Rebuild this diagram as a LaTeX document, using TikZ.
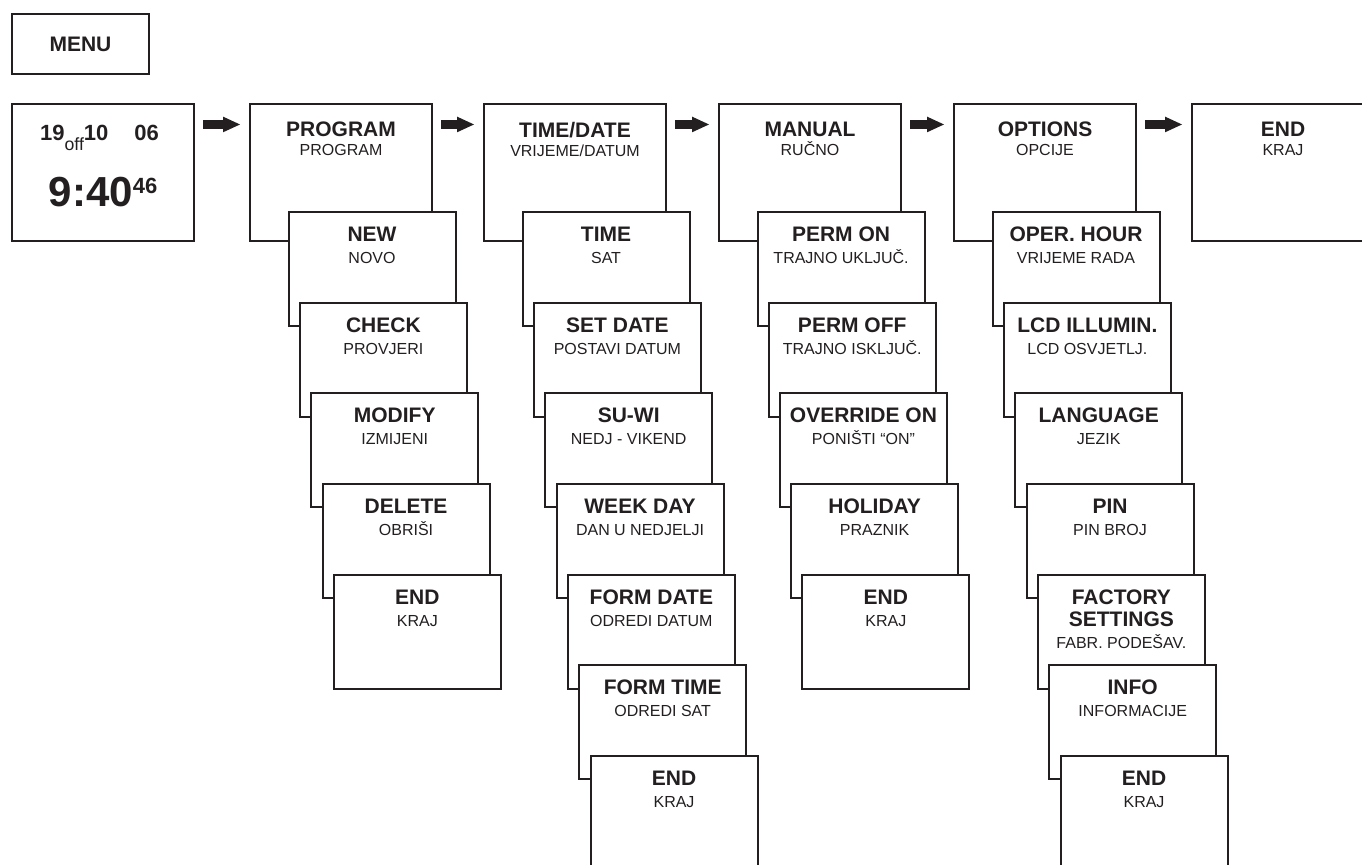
\documentclass[tikz,border=0pt]{standalone}
\usepackage{fontspec}
\setmainfont{Liberation Sans}
\usetikzlibrary{positioning,arrows.meta}

\definecolor{ink}{RGB}{35,31,32}
\newcommand{\mtitle}[1]{{\fontsize{15.75}{16}\selectfont\bfseries #1}}

\begin{document}
\begin{tikzpicture}[x=0.75pt, y=-0.75pt, color=ink,
	box/.style={draw, fill=white, line width=1.5pt, inner sep=0pt, anchor=north west},
	menu/.style={box, minimum width=136.5pt, minimum height=102.75pt},
	card/.style={box, minimum width=125.25pt, minimum height=85.5pt},
	mlabel/.style={anchor=north, inner sep=0pt, yshift=-14pt, align=center, font=\fontsize{12}{14.25}\selectfont},
	clabel/.style={anchor=north, inner sep=0pt, yshift=-11.75pt, align=center, font=\fontsize{12}{16.5}\selectfont},
	flow/.style={line width=6.75pt, -{Triangle[length=12.75pt, width=11.75pt, line width=0pt]}, shorten <=6pt, shorten >=6.75pt}]

	\useasboundingbox (0,0) rectangle (1362,864);
	\clip (0,0) rectangle (1362,864);

	% Title
	\node[box, minimum width=102.75pt, minimum height=45pt, font=\fontsize{15.75}{16}\selectfont\bfseries] (title) at (11,13) {MENU};

	% Display
	\node[menu] (disp) at (11,103) {};
	\node[anchor=base] (date) at (99.5,140) {\fontsize{16.5}{18}\selectfont\bfseries 19\raisebox{-7.5pt}{\fontsize{13.25}{14}\selectfont\mdseries off}10\hspace{19.5pt}06};
	\node[anchor=base] (clock) at (103,206) {\fontsize{31.5}{34}\selectfont\bfseries 9:40\raisebox{9.75pt}{\fontsize{16.5}{18}\selectfont 46}};

	% Main menu
	\node[menu, label={[mlabel]north:{\mtitle{PROGRAM}\\PROGRAM}}] (prog) at (249,103) {};
	\node[menu, label={[mlabel]north:{\mtitle{TIME/DATE}\\VRIJEME/DATUM}}] (timedate) at (483,103) {};
	\node[menu, label={[mlabel]north:{\mtitle{MANUAL}\\RUČNO}}] (manual) at (718,103) {};
	\node[menu, label={[mlabel]north:{\mtitle{OPTIONS}\\OPCIJE}}] (options) at (953,103) {};
	\node[menu, label={[mlabel]north:{\mtitle{END}\\KRAJ}}] (fin) at (1191,103) {};

	\draw[flow] ([yshift=-16.1pt]disp.north east) -- ([yshift=-16.1pt]prog.north west);
	\draw[flow] ([yshift=-16.1pt]prog.north east) -- ([yshift=-16.1pt]timedate.north west);
	\draw[flow] ([yshift=-16.1pt]timedate.north east) -- ([yshift=-16.1pt]manual.north west);
	\draw[flow] ([yshift=-16.1pt]manual.north east) -- ([yshift=-16.1pt]options.north west);
	\draw[flow] ([yshift=-16.1pt]options.north east) -- ([yshift=-16.1pt]fin.north west);

	% Program
	\node[card, below right=81pt and 28.9pt of prog.north west, label={[clabel]north:{\mtitle{NEW}\\NOVO}}] (new) {};
	\node[card, below right=68pt and 8.5pt of new.north west, label={[clabel]north:{\mtitle{CHECK}\\PROVJERI}}] (check) {};
	\node[card, below right=68pt and 8.5pt of check.north west, label={[clabel]north:{\mtitle{MODIFY}\\IZMIJENI}}] (modify) {};
	\node[card, below right=68pt and 8.5pt of modify.north west, label={[clabel]north:{\mtitle{DELETE}\\OBRIŠI}}] (delete) {};
	\node[card, below right=68pt and 8.5pt of delete.north west, label={[clabel]north:{\mtitle{END}\\KRAJ}}] (pend) {};

	% Time/Date
	\node[card, below right=81pt and 28.9pt of timedate.north west, label={[clabel]north:{\mtitle{TIME}\\SAT}}] (time) {};
	\node[card, below right=68pt and 8.5pt of time.north west, label={[clabel]north:{\mtitle{SET DATE}\\POSTAVI DATUM}}] (setdate) {};
	\node[card, below right=68pt and 8.5pt of setdate.north west, label={[clabel]north:{\mtitle{SU-WI}\\NEDJ - VIKEND}}] (suwi) {};
	\node[card, below right=68pt and 8.5pt of suwi.north west, label={[clabel]north:{\mtitle{WEEK DAY}\\DAN U NEDJELJI}}] (weekday) {};
	\node[card, below right=68pt and 8.5pt of weekday.north west, label={[clabel]north:{\mtitle{FORM DATE}\\ODREDI DATUM}}] (formdate) {};
	\node[card, below right=68pt and 8.5pt of formdate.north west, label={[clabel]north:{\mtitle{FORM TIME}\\ODREDI SAT}}] (formtime) {};
	\node[card, below right=68pt and 8.5pt of formtime.north west, label={[clabel]north:{\mtitle{END}\\KRAJ}}] (tend) {};

	% Manual
	\node[card, below right=81pt and 28.9pt of manual.north west, label={[clabel]north:{\mtitle{PERM ON}\\TRAJNO UKLJUČ.}}] (permon) {};
	\node[card, below right=68pt and 8.4pt of permon.north west, label={[clabel]north:{\mtitle{PERM OFF}\\TRAJNO ISKLJUČ.}}] (permoff) {};
	\node[card, below right=68pt and 8.4pt of permoff.north west, label={[clabel]north:{\mtitle{OVERRIDE ON}\\PONIŠTI “ON”}}] (override) {};
	\node[card, below right=68pt and 8.4pt of override.north west, label={[clabel]north:{\mtitle{HOLIDAY}\\PRAZNIK}}] (holiday) {};
	\node[card, below right=68pt and 8.4pt of holiday.north west, label={[clabel]north:{\mtitle{END}\\KRAJ}}] (mend) {};

	% Options
	\node[card, below right=81pt and 28.9pt of options.north west, label={[clabel]north:{\mtitle{OPER. HOUR}\\VRIJEME RADA}}] (operhour) {};
	\node[card, below right=68pt and 8.5pt of operhour.north west, label={[clabel]north:{\mtitle{LCD ILLUMIN.}\\LCD OSVJETLJ.}}] (lcd) {};
	\node[card, below right=68pt and 8.5pt of lcd.north west, label={[clabel]north:{\mtitle{LANGUAGE}\\JEZIK}}] (language) {};
	\node[card, below right=68pt and 8.5pt of language.north west, label={[clabel]north:{\mtitle{PIN}\\PIN BROJ}}] (pin) {};
	\node[card, below right=68pt and 8.5pt of pin.north west, label={[clabel]north:{\mtitle{FACTORY}\\\mtitle{SETTINGS}\\FABR. PODEŠAV.}}] (factory) {};
	\node[card, below right=68pt and 8.5pt of factory.north west, label={[clabel]north:{\mtitle{INFO}\\INFORMACIJE}}] (info) {};
	\node[card, below right=68pt and 8.5pt of info.north west, label={[clabel]north:{\mtitle{END}\\KRAJ}}] (oend) {};
\end{tikzpicture}
\end{document}
